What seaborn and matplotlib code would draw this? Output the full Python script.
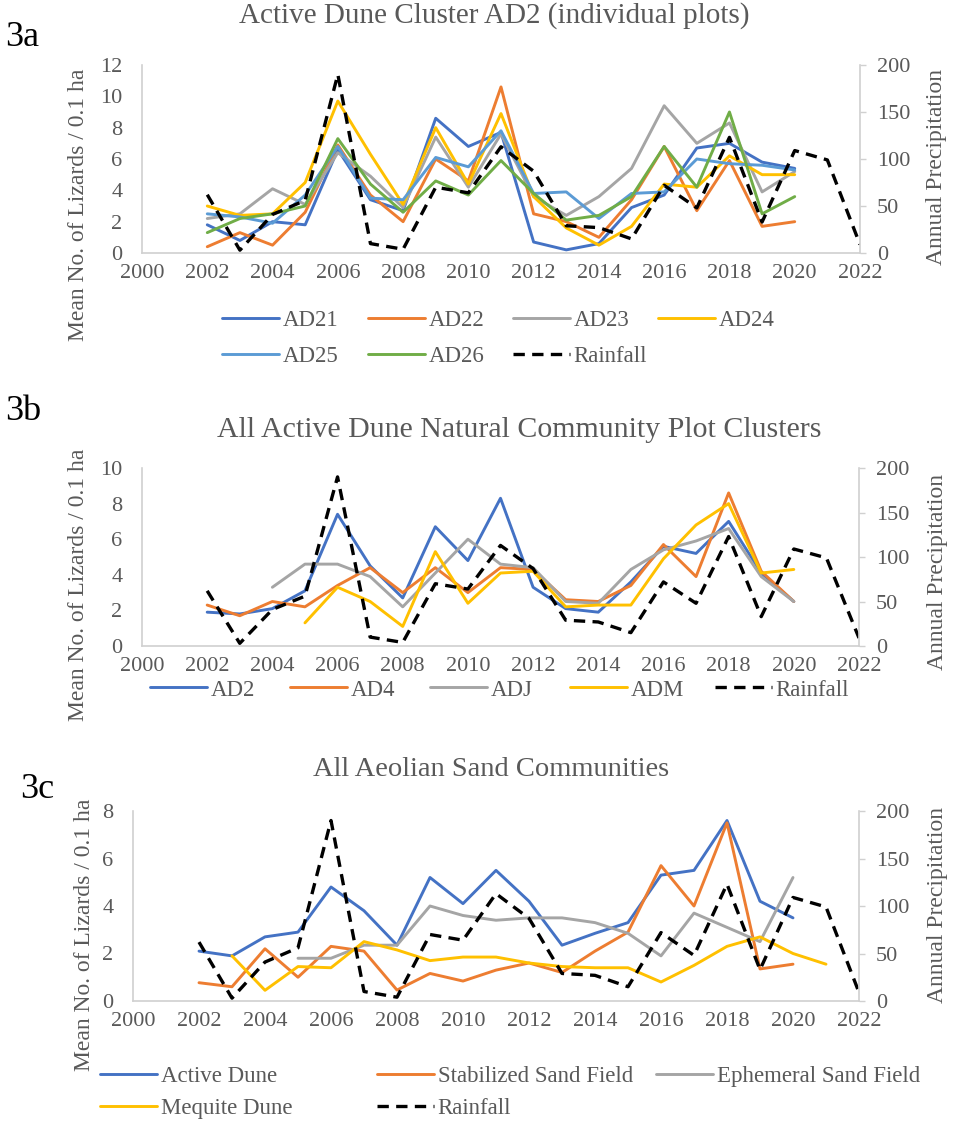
import matplotlib
matplotlib.use("Agg")
import matplotlib.pyplot as plt
import numpy as np
import pandas as pd
import seaborn as sns

W, H = 955, 1124

# ---------------- data ----------------
years_a = list(range(2002, 2021))
ad21 = [1.8, 0.8, 2.0, 1.8, 6.6, 3.4, 2.7, 8.6, 6.8, 7.7, 0.7, 0.2, 0.6, 2.9, 3.7, 6.7, 7.0, 5.8, 5.4]
ad22 = [0.4, 1.3, 0.5, 2.6, 6.9, 3.7, 2.0, 6.0, 4.6, 10.6, 2.5, 2.0, 1.0, 3.4, 6.8, 2.7, 5.9, 1.7, 2.0]
ad23 = [2.2, 2.5, 4.1, 3.1, 6.4, 4.9, 2.9, 7.4, 4.2, 7.6, 3.6, 2.4, 3.6, 5.4, 9.4, 7.0, 8.3, 3.9, 5.2]
ad24 = [3.0, 2.4, 2.5, 4.5, 9.7, 6.3, 3.1, 8.0, 4.4, 8.9, 3.6, 1.6, 0.5, 1.7, 4.4, 4.2, 6.2, 5.0, 5.0]
ad25 = [2.5, 2.3, 1.9, 3.7, 6.8, 3.5, 3.4, 6.1, 5.5, 7.8, 3.8, 3.9, 2.2, 3.8, 3.9, 6.0, 5.7, 5.6, 5.3]
ad26 = [1.3, 2.2, 2.5, 3.0, 7.3, 4.4, 2.6, 4.6, 3.7, 5.9, 3.8, 2.1, 2.4, 3.6, 6.8, 4.2, 9.0, 2.5, 3.6]

years_b = list(range(2002, 2021))
ad2 = [1.9, 1.8, 2.1, 3.1, 7.4, 4.5, 2.7, 6.7, 4.8, 8.3, 3.3, 2.1, 1.9, 3.6, 5.6, 5.2, 7.0, 4.1, 2.5]
ad4 = [2.3, 1.7, 2.5, 2.2, 3.4, 4.4, 3.0, 4.4, 3.0, 4.4, 4.3, 2.6, 2.5, 3.4, 5.7, 3.9, 8.6, 4.2, 2.5]
adj_years = list(range(2004, 2021))
adj = [3.3, 4.6, 4.6, 3.9, 2.2, 4.1, 6.0, 4.6, 4.4, 2.5, 2.4, 4.3, 5.4, 5.9, 6.6, 3.9, 2.5]
adm_years = list(range(2005, 2021))
adm = [1.3, 3.3, 2.5, 1.1, 5.3, 2.4, 4.1, 4.2, 2.2, 2.3, 2.3, 4.9, 6.8, 8.0, 4.1, 4.3]

years_c = list(range(2002, 2021))
active_dune = [2.1, 1.9, 2.7, 2.9, 4.8, 3.8, 2.35, 5.2, 4.1, 5.5, 4.2, 2.35, 2.85, 3.3, 5.3, 5.5, 7.6, 4.2, 3.5]
stabilized = [0.77, 0.6, 2.2, 1.0, 2.3, 2.1, 0.46, 1.16, 0.84, 1.3, 1.6, 1.2, 2.1, 2.9, 5.7, 4.0, 7.5, 1.35, 1.55]
ephemeral_years = list(range(2005, 2021))
ephemeral = [1.8, 1.8, 2.35, 2.35, 4.0, 3.6, 3.4, 3.5, 3.5, 3.3, 2.85, 1.9, 3.7, 3.1, 2.5, 5.2]
mequite_years = list(range(2003, 2022))
mequite = [1.9, 0.45, 1.45, 1.4, 2.5, 2.15, 1.7, 1.85, 1.85, 1.6, 1.45, 1.4, 1.4, 0.8, 1.5, 2.3, 2.7, 2.0, 1.55]

rain_years = list(range(2002, 2023))
rainfall = [62, 3, 41, 56, 190, 10, 4, 70, 64, 113, 87, 29, 27, 15, 72, 48, 123, 33, 109, 99, 9]

year_ticks = list(range(2000, 2023, 2))

BLUE, ORANGE, GREY, GOLD, LBLUE, GREEN = "#4472C4", "#ED7D31", "#A5A5A5", "#FFC000", "#5B9BD5", "#70AD47"
TXT = "#595959"
AXLINE = "#D0D0D0"

sns.set_theme(style="white")
plt.rcParams["font.family"] = ["Liberation Serif", "DejaVu Serif"]

fig = plt.figure(figsize=(W / 100, H / 100), dpi=100)


def px_rect(l, r, t, b):
    return [l / W, 1 - b / H, (r - l) / W, (b - t) / H]


def fx(x):
    return x / W


def fy(y):
    return 1 - y / H


def draw_panel(rect, series, ymax):
    ax = fig.add_axes(rect)
    handles = {}
    for name, yrs, vals, color in series:
        df = pd.DataFrame({"year": yrs, "value": vals})
        sns.lineplot(data=df, x="year", y="value", ax=ax, color=color,
                     lw=2.1, legend=False)
        handles[name] = ax.get_lines()[-1]
    ax2 = ax.twinx()
    rdf = pd.DataFrame({"year": rain_years, "rain": rainfall})
    sns.lineplot(data=rdf, x="year", y="rain", ax=ax2, color="black",
                 lw=2.4, linestyle=(0, (3.4, 2.2)), legend=False)
    handles["Rainfall"] = ax2.get_lines()[-1]

    ax.set_xlim(2000, 2022)
    ax.set_ylim(0, ymax)
    ax.set_yticks(np.arange(0, ymax + 1, 2))
    ax.set_xticks(year_ticks)
    ax2.set_ylim(0, 200)
    ax2.set_yticks(range(0, 201, 50))
    for a in (ax, ax2):
        a.set_xlabel("")
        a.set_ylabel("")
        a.grid(False)
        a.set_facecolor("none")
        for s in a.spines.values():
            s.set_visible(False)
    ax.spines["left"].set_visible(True)
    ax.spines["bottom"].set_visible(True)
    ax2.spines["right"].set_visible(True)
    for s in (ax.spines["left"], ax.spines["bottom"], ax2.spines["right"]):
        s.set_color(AXLINE)
        s.set_linewidth(1.2)
    ax.tick_params(axis="y", length=0, pad=14, labelsize=16, labelcolor=TXT)
    ax.tick_params(axis="x", length=0, pad=8, labelsize=16, labelcolor=TXT)
    ax2.tick_params(axis="y", length=4, width=1, color=AXLINE, direction="out",
                    pad=8, labelsize=16, labelcolor=TXT)
    return ax, handles


def legend_entry(handle, label, x_px, y_px):
    fig.legend([handle], [label], loc="center left",
               bbox_to_anchor=(fx(x_px), fy(y_px)), frameon=False,
               fontsize=16.5, handlelength=2.5, handletextpad=0.15,
               borderpad=0, borderaxespad=0, labelcolor=TXT)


def panel_text(tag, tag_xy, title, title_size, title_xy, ylab_xy, rlab_xy):
    fig.text(fx(tag_xy[0]), fy(tag_xy[1]), tag, fontsize=26, color="black",
             ha="left", va="center")
    fig.text(fx(title_xy[0]), fy(title_xy[1]), title, fontsize=title_size,
             color=TXT, ha="center", va="center")
    fig.text(fx(ylab_xy[0]), fy(ylab_xy[1]), "Mean No. of Lizards / 0.1 ha",
             fontsize=17, color=TXT, rotation=90, ha="center", va="center")
    fig.text(fx(rlab_xy[0]), fy(rlab_xy[1]), "Annual Precipitation",
             fontsize=17, color=TXT, rotation=90, ha="center", va="center")


# ---------------- 3a ----------------
series_a = [("AD21", years_a, ad21, BLUE), ("AD22", years_a, ad22, ORANGE),
            ("AD23", years_a, ad23, GREY), ("AD24", years_a, ad24, GOLD),
            ("AD25", years_a, ad25, LBLUE), ("AD26", years_a, ad26, GREEN)]
ax_a, h_a = draw_panel(px_rect(142, 860, 65, 253), series_a, 12)
panel_text("3a", (5, 38), "Active Dune Cluster AD2 (individual plots)", 21, (494, 16),
           (79, 205), (936, 167))
for name, x, y in [("AD21", 222, 320), ("AD22", 368, 320), ("AD23", 513, 320),
                   ("AD24", 658, 320), ("AD25", 222, 356), ("AD26", 368, 356),
                   ("Rainfall", 513, 356)]:
    legend_entry(h_a[name], name, x, y)

# ---------------- 3b ----------------
series_b = [("AD2", years_b, ad2, BLUE), ("AD4", years_b, ad4, ORANGE),
            ("ADJ", adj_years, adj, GREY), ("ADM", adm_years, adm, GOLD)]
ax_b, h_b = draw_panel(px_rect(142, 859, 468, 646), series_b, 10)
panel_text("3b", (5, 411), "All Active Dune Natural Community Plot Clusters", 21.5, (519, 430),
           (79, 585), (937, 572))
for name, x in [("AD2", 150), ("AD4", 290), ("ADJ", 430), ("ADM", 570), ("Rainfall", 715)]:
    legend_entry(h_b[name], name, x, 690)

# ---------------- 3c ----------------
series_c = [("Active Dune", years_c, active_dune, BLUE),
            ("Stabilized Sand Field", years_c, stabilized, ORANGE),
            ("Ephemeral Sand Field", ephemeral_years, ephemeral, GREY),
            ("Mequite Dune", mequite_years, mequite, GOLD)]
ax_c, h_c = draw_panel(px_rect(133, 859, 811, 1001), series_c, 8)
panel_text("3c", (20, 790), "All Aeolian Sand Communities", 20.5, (491, 769),
           (84, 935), (937, 905))
for name, x, y in [("Active Dune", 100, 1076), ("Stabilized Sand Field", 377, 1076),
                   ("Ephemeral Sand Field", 656, 1076), ("Mequite Dune", 100, 1108),
                   ("Rainfall", 377, 1108)]:
    legend_entry(h_c[name], name, x, y)

fig.savefig("out.png", dpi=100, facecolor="white")
